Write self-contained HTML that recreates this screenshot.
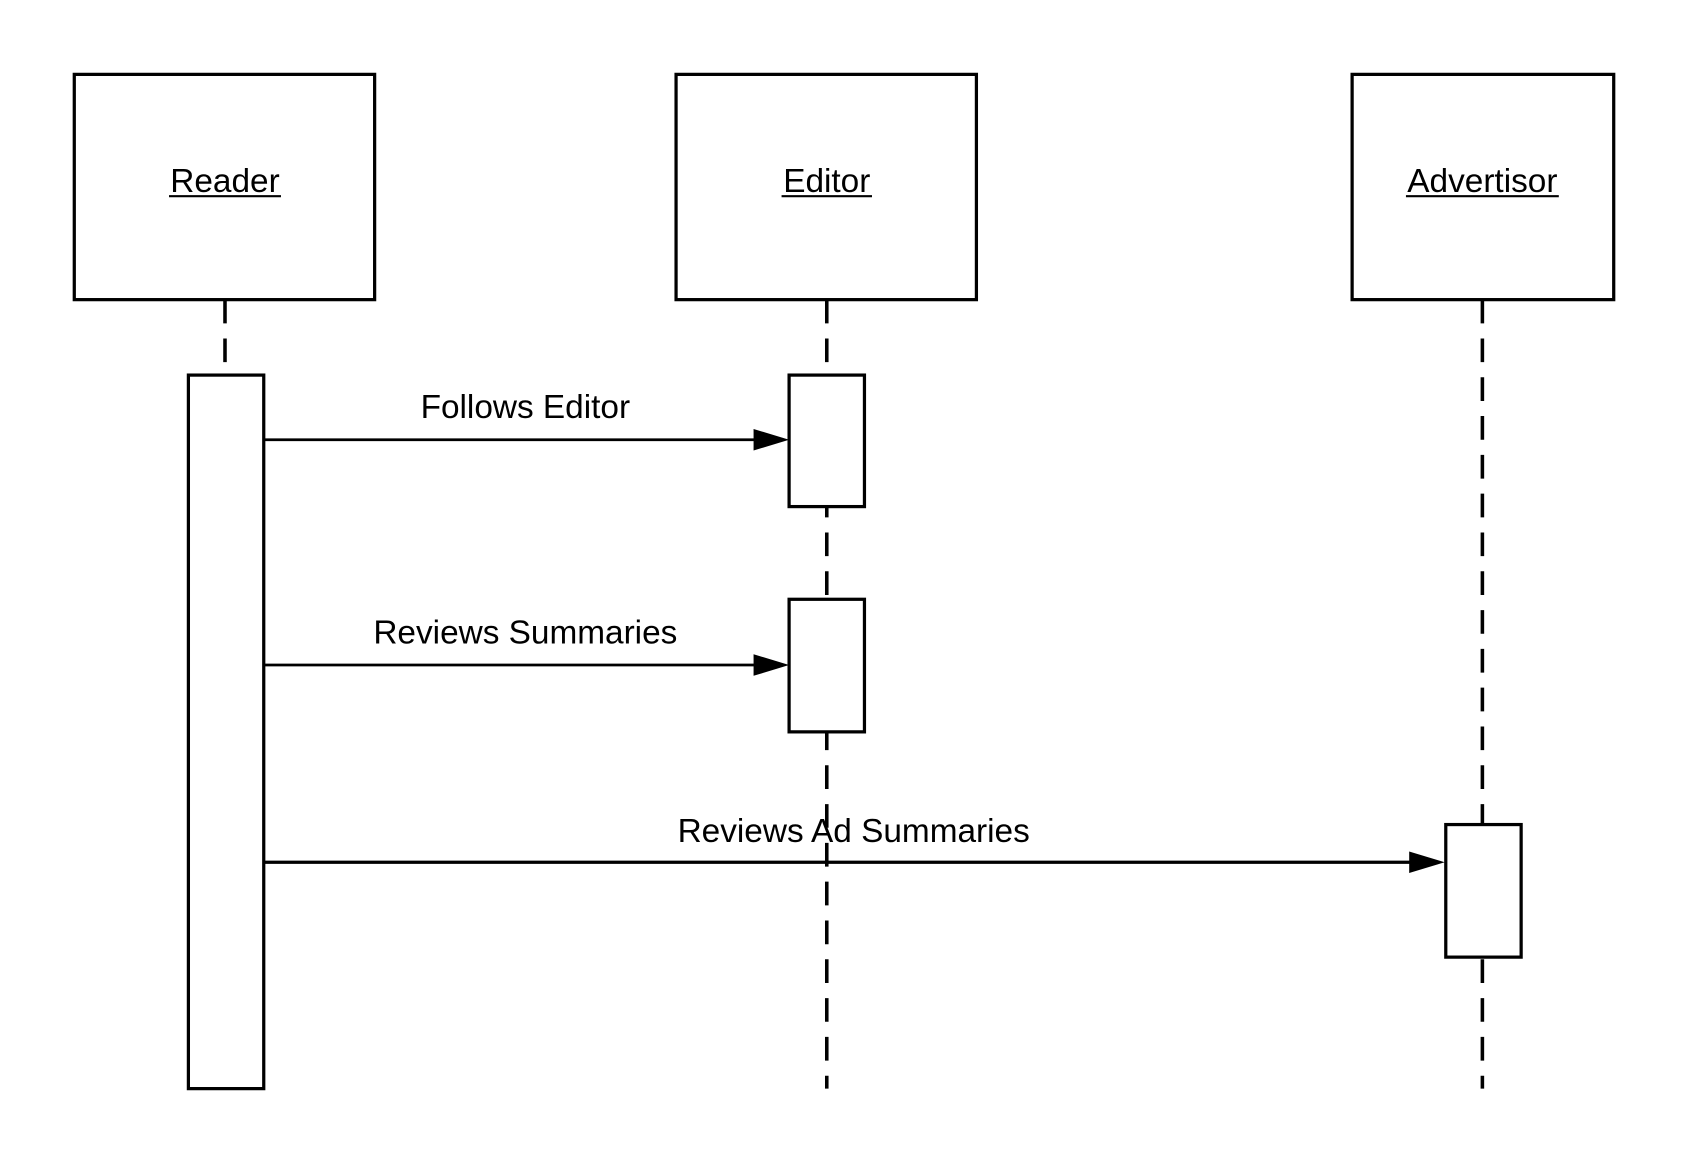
<!DOCTYPE html>
<html><head><meta charset="utf-8"><style>html,body{margin:0;padding:0;background:#fff;}svg{display:block}</style></head>
<body>
<svg width="1688" height="1163" viewBox="0 0 1568 1079" preserveAspectRatio="none" xmlns="http://www.w3.org/2000/svg">
<rect width="1568" height="1079" fill="#fff"/>
<g fill="none" stroke="#000" stroke-width="3">
<line x1="209" y1="278" x2="209" y2="348" stroke-dasharray="22,14" stroke-width="3.3"/>
<line x1="768" y1="278" x2="768" y2="1010" stroke-dasharray="22,14" stroke-width="3.3"/>
<line x1="1377" y1="278" x2="1377" y2="1010" stroke-dasharray="22,14" stroke-width="3.3"/>
<rect x="69" y="69" width="279" height="209" fill="#fff"/>
<rect x="628" y="69" width="279" height="209" fill="#fff"/>
<rect x="1256" y="69" width="243" height="209" fill="#fff"/>
<rect x="175" y="348" width="70" height="662" fill="#fff"/>
<rect x="733" y="348" width="70" height="122" fill="#fff"/>
<rect x="733" y="556" width="70" height="123" fill="#fff"/>
<rect x="1343" y="765" width="70" height="123" fill="#fff"/>
<line x1="245" y1="408" x2="703" y2="408" stroke-width="2.5"/>
<line x1="245" y1="617" x2="703" y2="617" stroke-width="2.5"/>
<line x1="245" y1="800" x2="1312" y2="800" stroke-width="3"/>
</g>
<g fill="#000">
<polygon points="700,398 733,408 700,418"/>
<polygon points="700,607 733,617 700,627"/>
<polygon points="1309,790 1342,800 1309,810"/>
</g>
<g font-family="Liberation Sans, sans-serif" font-size="31" text-anchor="middle" fill="#000">
<text x="209" y="178">Reader</text>
<text x="768" y="178">Editor</text>
<text x="1377" y="178">Advertisor</text>
<text x="488" y="388">Follows Editor</text>
<text x="488" y="597">Reviews Summaries</text>
<text x="793" y="781">Reviews Ad Summaries</text>
</g>
<g stroke="#000" stroke-width="2">
<line x1="157" y1="182" x2="261" y2="182"/>
<line x1="726" y1="182" x2="810" y2="182"/>
<line x1="1306" y1="182" x2="1448" y2="182"/>
</g>
</svg>
</body></html>
